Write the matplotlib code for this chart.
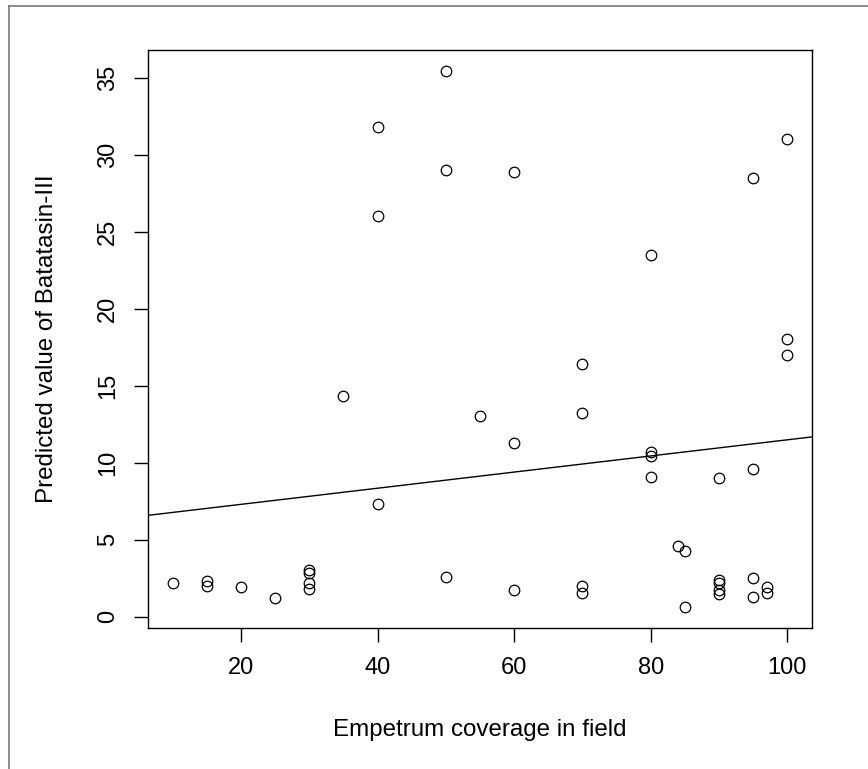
import numpy as np
import matplotlib
matplotlib.use("Agg")
import matplotlib.pyplot as plt
from matplotlib.lines import Line2D

plt.rcParams['font.family'] = ['Liberation Sans', 'DejaVu Sans']

# datos
cobertura = [10, 15, 15, 20, 25, 30, 30, 30, 30, 35,
             40, 40, 40, 50, 50, 50, 55, 60, 60, 60,
             70, 70, 70, 70, 80, 80, 80, 80, 84, 85, 85,
             90, 90, 90, 90, 90, 95, 95, 95, 95, 97, 97,
             100, 100, 100]
batatasin = [2.15, 2.3, 2.0, 1.95, 1.2, 3.05, 2.8, 2.15, 1.8, 14.3,
             31.8, 26.0, 7.3, 35.4, 29.0, 2.55, 13.0, 28.9, 11.3, 1.75,
             16.4, 13.2, 2.0, 1.55, 23.5, 10.7, 10.4, 9.05, 4.6, 4.25, 0.65,
             9.0, 2.4, 2.15, 1.75, 1.5, 28.5, 9.6, 2.5, 1.25, 1.95, 1.55,
             31.0, 18.0, 17.0]

x_ticks = [20, 40, 60, 80, 100]
y_ticks = [0, 5, 10, 15, 20, 25, 30, 35]

# recta del modelo (abline)
intercepto = 6.24
pendiente = 0.0524

W, H = 868, 769
fig = plt.figure(figsize=(W / 100, H / 100), dpi=100)
ax = fig.add_axes([148 / W, 1 - 628 / H, (812 - 148) / W, (628 - 50) / H])

ax.plot(cobertura, batatasin, linestyle='none', marker='o', markersize=7.6,
        markerfacecolor='none', markeredgecolor='black', markeredgewidth=0.9)

# R: 4% de margen en cada eje
xr = max(cobertura) - min(cobertura)
yr = max(batatasin) - min(batatasin)
ax.set_xlim(min(cobertura) - 0.04 * xr, max(cobertura) + 0.04 * xr)
ax.set_ylim(min(batatasin) - 0.04 * yr, max(batatasin) + 0.04 * yr)

ax.axline((0, intercepto), slope=pendiente, color='black', linewidth=1.0)

ax.set_xticks(x_ticks)
ax.set_yticks(y_ticks)
ax.set_yticklabels([str(v) for v in y_ticks], rotation=90, va='center')
ax.tick_params(direction='out', length=10, width=1.0, labelsize=17, pad=11)
for s in ax.spines.values():
    s.set_linewidth(1.0)

ax.set_xlabel("Empetrum coverage in field", fontsize=17.4)
ax.set_ylabel("Predicted value of Batatasin-III", fontsize=17.4)
ax.xaxis.set_label_coords(0.5, (628 - 730) / 578)
ax.xaxis.label.set_va('center')
ax.yaxis.set_label_coords((47 - 148) / 664, 0.5)
ax.yaxis.label.set_va('center')

# marco gris exterior (captura de pantalla)
fig.add_artist(Line2D([8.5 / W, 8.5 / W], [0, 1 - 5.5 / H], color='#7a7a7a', linewidth=1.2,
                      transform=fig.transFigure))
fig.add_artist(Line2D([8.5 / W, 1], [1 - 5.5 / H, 1 - 5.5 / H], color='#7a7a7a', linewidth=1.2,
                      transform=fig.transFigure))

fig.savefig("out.png", dpi=100)
